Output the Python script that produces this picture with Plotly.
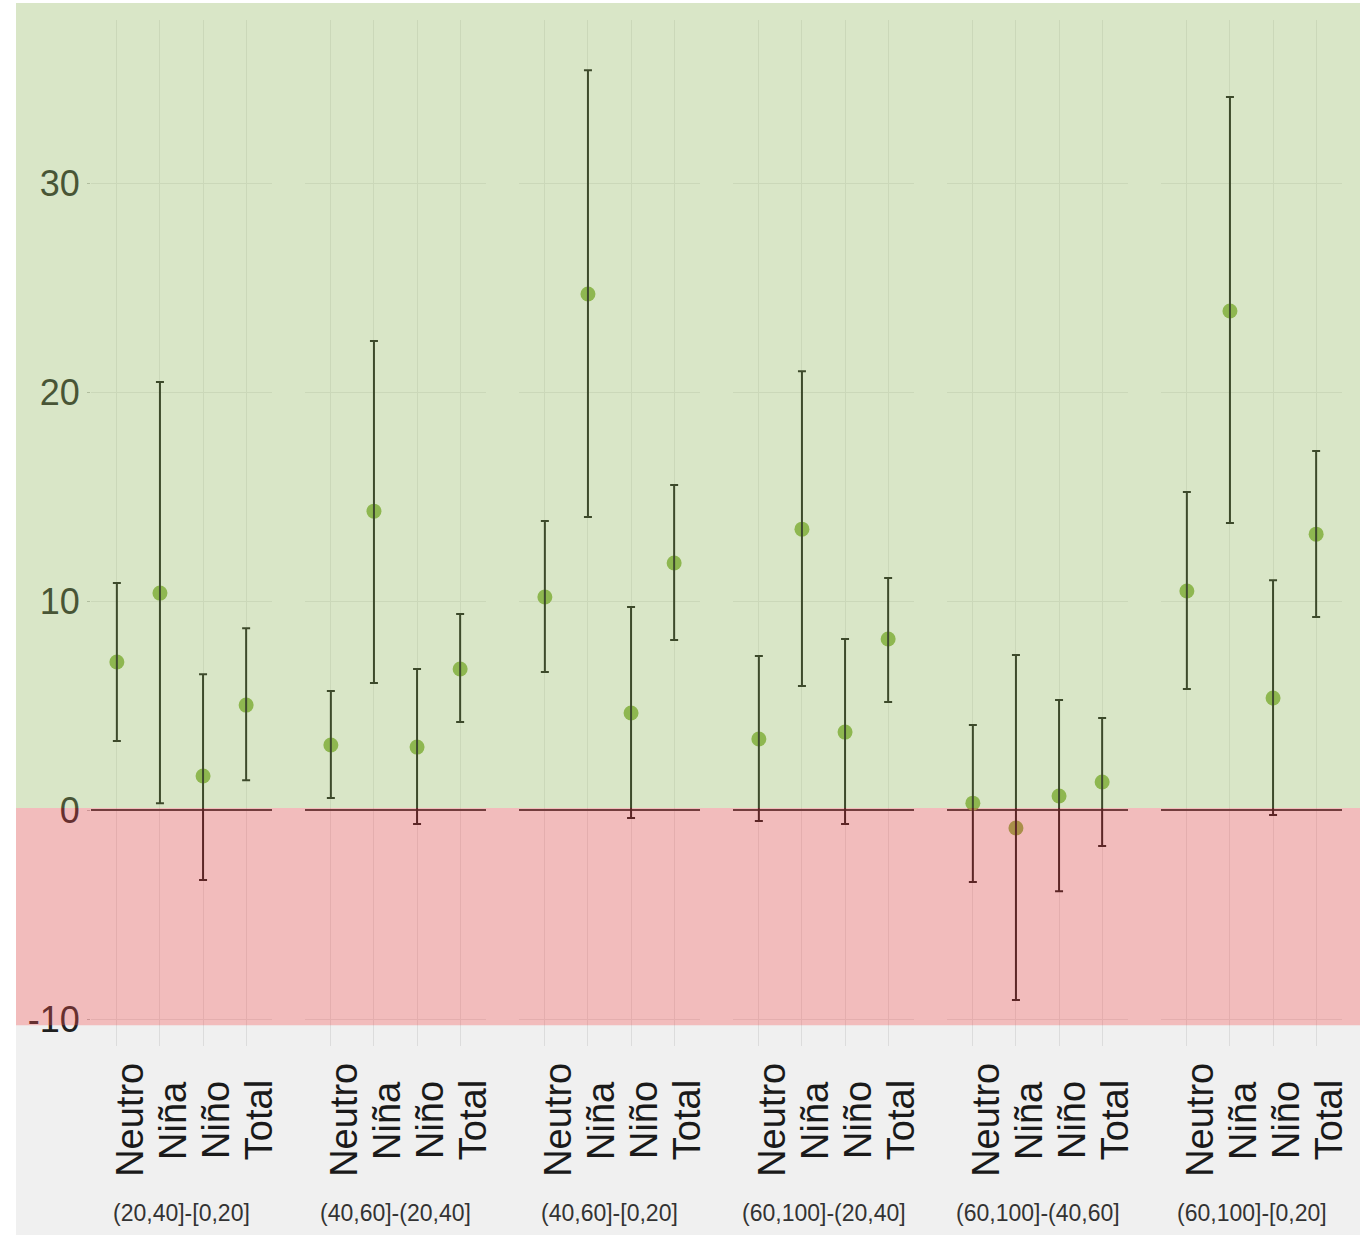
import plotly.graph_objects as go
from plotly.subplots import make_subplots

# ---- data -------------------------------------------------------------
categorias = ["Neutro", "Niña", "Niño", "Total"]
grupos = [
    "(20,40]-[0,20]",
    "(40,60]-(20,40]",
    "(40,60]-[0,20]",
    "(60,100]-(20,40]",
    "(60,100]-(40,60]",
    "(60,100]-[0,20]",
]

# estimated difference (one row per group, one value per category)
media = [
    [7.08, 10.38, 1.63, 5.02],
    [3.11, 14.30, 3.01, 6.75],
    [10.19, 24.69, 4.64, 11.82],
    [3.40, 13.44, 3.73, 8.18],
    [0.33, -0.86, 0.67, 1.34],
    [10.48, 23.88, 5.36, 13.20],
]
limite_sup = [
    [10.86, 20.48, 6.50, 8.70],
    [5.69, 22.44, 6.75, 9.38],
    [13.83, 35.40, 9.71, 15.55],
    [7.37, 21.00, 8.18, 11.10],
    [4.07, 7.42, 5.26, 4.40],
    [15.22, 34.11, 11.00, 17.18],
]
limite_inf = [
    [3.30, 0.33, -3.35, 1.43],
    [0.57, 6.08, -0.67, 4.21],
    [6.60, 14.02, -0.38, 8.13],
    [-0.53, 5.93, -0.67, 5.17],
    [-3.44, -9.09, -3.88, -1.72],
    [5.79, 13.73, -0.24, 9.23],
]
y_ticks = [-10, 0, 10, 20, 30]
y_tick_labels = ["-10", "0", "10", "20", "30"]

# ---- layout constants -------------------------------------------------
W, H = 1360, 1235
ML, MR, MT, MB = 91, 18, 20, 189
YMIN, YMAX = -11.29, 37.8
SPLIT = 0.1          # border between the positive and negative bands
NEG_BOTTOM = -10.3   # lower end of the negative band

PLOT_W = W - ML - MR
PLOT_H = H - MT - MB


def px_x(px):
    return (px - ML) / PLOT_W


def px_y(py):
    return (H - MB - py) / PLOT_H


def val_y(v):
    return (v - YMIN) / (YMAX - YMIN)


FONT = "Liberation Sans, Arial, sans-serif"

n = len(grupos)
fig = make_subplots(rows=1, cols=n, shared_yaxes=True,
                    horizontal_spacing=33 / PLOT_W)

for i in range(n):
    col = i + 1
    # points
    fig.add_trace(go.Scatter(
        x=categorias, y=media[i], mode="markers",
        marker=dict(size=15, color="#84ad45"),
        hoverinfo="skip",
    ), row=1, col=col)
    # confidence intervals drawn over the points
    fig.add_trace(go.Scatter(
        x=categorias, y=media[i], mode="markers",
        marker=dict(size=1, opacity=0),
        error_y=dict(
            type="data", symmetric=False,
            array=[u - m for u, m in zip(limite_sup[i], media[i])],
            arrayminus=[m - l for m, l in zip(media[i], limite_inf[i])],
            color="#111111", thickness=2, width=4,
        ),
        hoverinfo="skip",
    ), row=1, col=col)

    fig.update_xaxes(
        type="category", categoryorder="array", categoryarray=categorias,
        range=[-0.6, 3.6], showgrid=True, gridcolor="#dcdcdc", gridwidth=1.2,
        showticklabels=False, ticks="", showline=False, zeroline=False,
        row=1, col=col,
    )
    fig.update_yaxes(
        range=[YMIN, YMAX], tickvals=y_ticks, ticktext=y_tick_labels,
        showgrid=True, gridcolor="#dcdcdc", gridwidth=1.2,
        zeroline=True, zerolinecolor="#333333", zerolinewidth=2,
        showline=False, row=1, col=col,
    )

    xref = "x" if i == 0 else f"x{col}"
    # category labels, rotated and centred
    for c in categorias:
        fig.add_annotation(
            x=c, xref=xref, y=px_y(1120), yref="paper",
            text=c, textangle=-90, showarrow=False,
            xanchor="center", yanchor="middle", xshift=13,
            font=dict(family=FONT, size=38, color="#1a1a1a"),
        )
    # group label under each panel
    fig.add_annotation(
        x=1.5, xref=xref, y=px_y(1213), yref="paper",
        text=grupos[i], showarrow=False,
        xanchor="center", yanchor="middle",
        font=dict(family=FONT, size=23, color="#333333"),
    )

fig.update_yaxes(
    ticks="outside", ticklen=3, tickcolor="#b5b5b5",
    tickfont=dict(family=FONT, size=36, color="#202020"),
    row=1, col=1,
)

# grey base and translucent positive / negative bands over everything
fig.add_shape(type="rect", xref="paper", yref="paper",
              x0=px_x(16), x1=px_x(W), y0=px_y(H), y1=px_y(3),
              fillcolor="#f0f0f0", line_width=0, layer="below")
fig.add_shape(type="rect", xref="paper", yref="paper",
              x0=px_x(16), x1=px_x(W), y0=val_y(SPLIT), y1=px_y(3),
              fillcolor="rgba(167,207,107,0.30)", line_width=0, layer="above")
fig.add_shape(type="rect", xref="paper", yref="paper",
              x0=px_x(16), x1=px_x(W), y0=val_y(NEG_BOTTOM), y1=val_y(SPLIT),
              fillcolor="rgba(246,82,82,0.33)", line_width=0, layer="above")

fig.update_layout(
    width=W, height=H,
    margin=dict(l=ML, r=MR, t=MT, b=MB),
    paper_bgcolor="white", plot_bgcolor="rgba(0,0,0,0)",
    showlegend=False,
    font=dict(family=FONT),
)

fig.write_html("out.html")
